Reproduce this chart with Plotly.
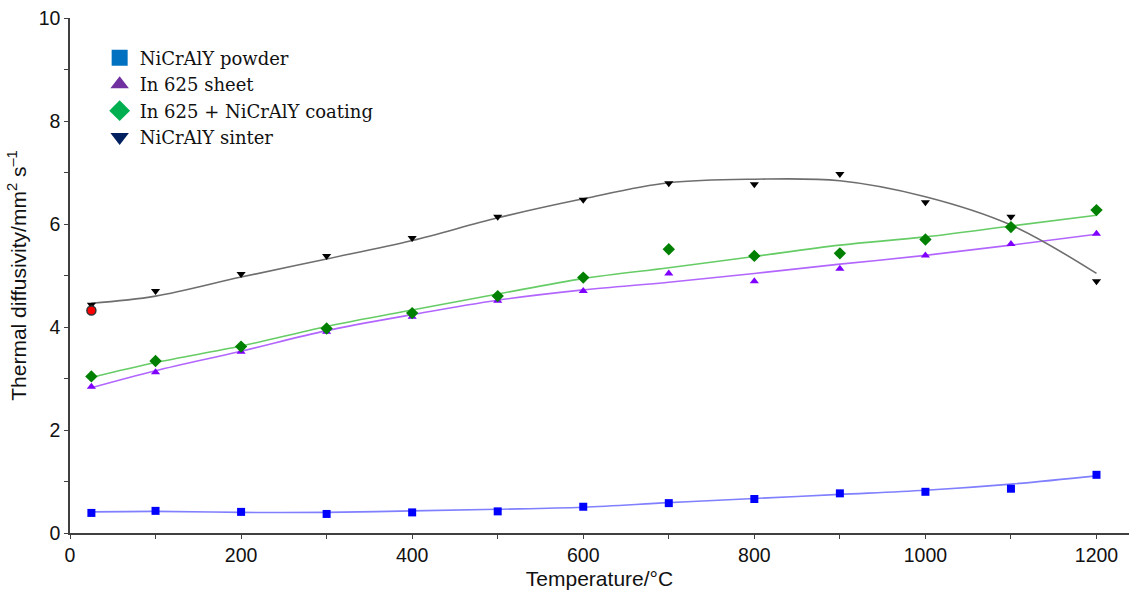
import plotly.graph_objects as go

temps = [25, 100, 200, 300, 400, 500, 600, 700, 800, 900, 1000, 1100, 1200]

powder = [0.39, 0.43, 0.41, 0.37, 0.40, 0.42, 0.51, 0.58, 0.66, 0.77, 0.80, 0.86, 1.13]
sheet = [2.84, 3.12, 3.52, 3.91, 4.20, 4.51, 4.70, 5.04, 4.89, 5.13, 5.39, 5.61, 5.81]
coating = [3.04, 3.34, 3.62, 3.97, 4.27, 4.60, 4.96, 5.51, 5.38, 5.43, 5.70, 5.94, 6.27]
sinter = [4.43, 4.70, 5.03, 5.38, 5.73, 6.14, 6.47, 6.79, 6.77, 6.97, 6.42, 6.14, 4.89]

# trend curves
powder_fit = [0.41, 0.42, 0.40, 0.40, 0.43, 0.46, 0.50, 0.59, 0.67, 0.75, 0.83, 0.95, 1.11]
sheet_fit = [2.82, 3.15, 3.53, 3.93, 4.24, 4.52, 4.72, 4.87, 5.04, 5.22, 5.39, 5.59, 5.80]
coating_fit = [3.02, 3.31, 3.63, 4.01, 4.33, 4.64, 4.94, 5.15, 5.37, 5.59, 5.75, 5.96, 6.17]
sinter_fit = [4.46, 4.60, 4.97, 5.32, 5.68, 6.12, 6.49, 6.80, 6.87, 6.84, 6.53, 5.98, 5.04]

red_x = [25]
red_y = [4.32]

legend_names = ["NiCrAlY powder", "In 625 sheet", "In 625 + NiCrAlY coating", "NiCrAlY sinter"]
legend_colors = ["#0070C0", "#7030A0", "#00B050", "#002060"]
legend_symbols = ["square", "triangle-up", "diamond", "triangle-down"]

fig = go.Figure()

fits = [(powder_fit, "#7F7FFF"), (sheet_fit, "#B266FF"), (coating_fit, "#66CC66"), (sinter_fit, "#6E6E6E")]
for yv, c in fits:
    fig.add_trace(go.Scatter(x=temps, y=yv, mode="lines", line=dict(color=c, width=1.6, shape="spline", smoothing=1.0),
                             showlegend=False, hoverinfo="skip"))

series = [
    (powder, "square", "#0000FF", 8),
    (sheet, "triangle-up", "#8000FF", 8),
    (coating, "diamond", "#008000", 9.5),
    (sinter, "triangle-down", "#000000", 8),
]
for yv, sym, c, s in series:
    fig.add_trace(go.Scatter(x=temps, y=yv, mode="markers", marker=dict(symbol=sym, color=c, size=s, line=dict(width=0)),
                             showlegend=False))

fig.add_trace(go.Scatter(x=red_x, y=red_y, mode="markers",
                         marker=dict(symbol="circle", color="#FF0000", size=9, line=dict(color="#333333", width=1.5)),
                         showlegend=False))

for n, c, sym in zip(legend_names, legend_colors, legend_symbols):
    fig.add_trace(go.Scatter(x=[None], y=[None], mode="markers", name=n,
                             marker=dict(symbol=sym, color=c, size=16)))

axis_common = dict(
    showgrid=False, zeroline=False, showline=True, linecolor="#404040", linewidth=1.5,
    ticks="outside", ticklen=4, tickcolor="#404040", tickwidth=1,
    tickfont=dict(family="Liberation Sans, Arial", size=19.5, color="#111111"),
)

fig.update_layout(
    width=1129, height=598,
    margin=dict(l=70, r=0, t=18, b=65),
    paper_bgcolor="white", plot_bgcolor="white",
    xaxis=dict(range=[0, 1238], tickvals=[0, 200, 400, 600, 800, 1000, 1200],
               minor=dict(tickvals=[100, 300, 500, 700, 900, 1100], ticks="outside", ticklen=4, tickcolor="#404040"),
               title=dict(text="Temperature/°C", font=dict(family="Liberation Sans, Arial", size=21, color="#111111"), standoff=6),
               **axis_common),
    yaxis=dict(range=[0, 10], tickvals=[0, 2, 4, 6, 8, 10],
               minor=dict(tickvals=[1, 3, 5, 7, 9], ticks="outside", ticklen=4, tickcolor="#404040"),
               title=dict(text="Thermal diffusivity/mm<sup>2</sup> s<sup>–1</sup>", font=dict(family="Liberation Sans, Arial", size=21, color="#111111"), standoff=6),
               **axis_common),
    legend=dict(x=0.028, y=0.958, xanchor="left", yanchor="top", bgcolor="rgba(0,0,0,0)",
                font=dict(family="DejaVu Serif, Liberation Serif", size=18, color="#111111"),
                itemsizing="trace", tracegroupgap=0),
)

fig.write_html("out.html")
